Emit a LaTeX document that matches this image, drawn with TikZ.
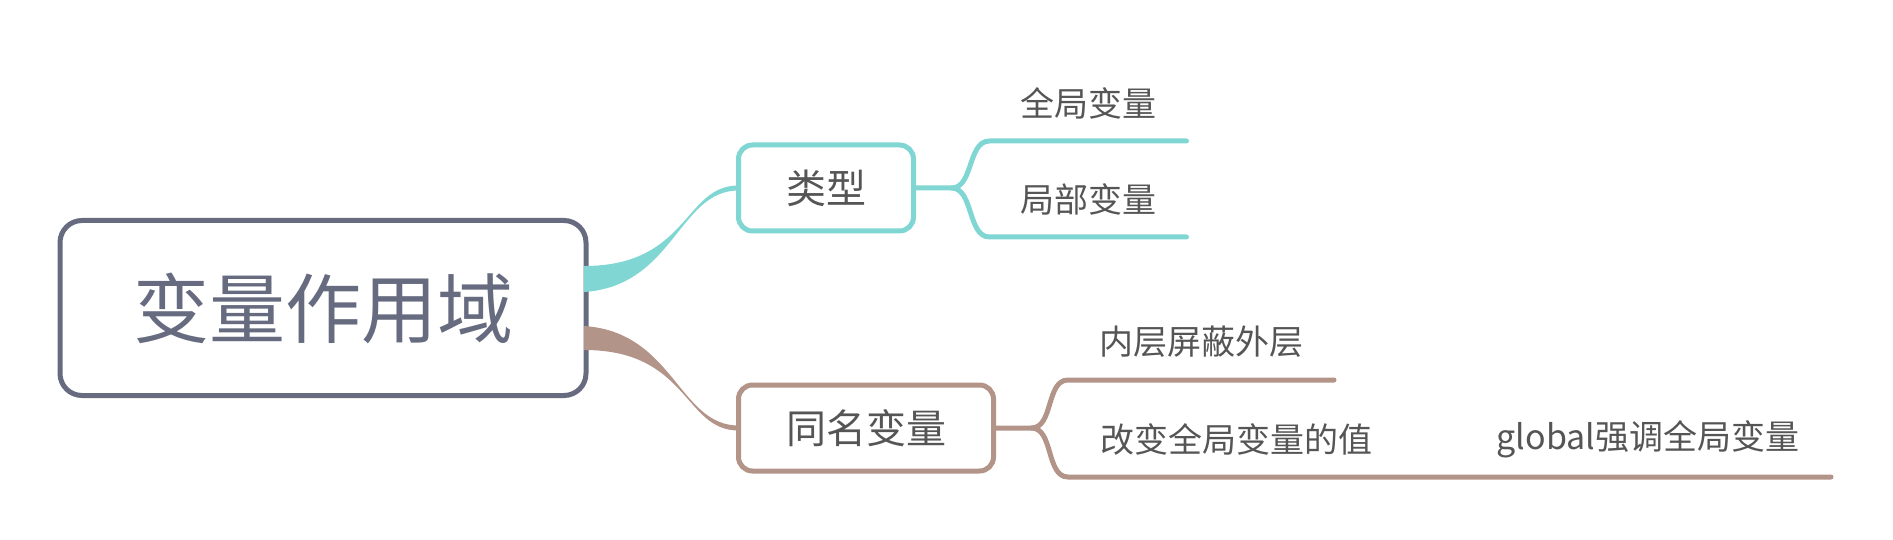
\documentclass[tikz,border=0pt]{standalone}
\usepackage{fontspec}
\newfontfamily\cjk{Noto Sans CJK SC}
\usetikzlibrary{calc}
\definecolor{slate}{HTML}{676B80}
\definecolor{tealc}{HTML}{7FD6D3}
\definecolor{brownc}{HTML}{B39489}
\definecolor{txt}{HTML}{555555}

\begin{document}
\begin{tikzpicture}[
    x=1pt, y=-1pt,
    rootbox/.style={draw=slate, line width=5pt, rounded corners=22pt, fill=white,
        minimum width=526pt, minimum height=175pt, outer sep=0pt,
        text=slate, font=\cjk\fontsize{76}{76}\selectfont},
    subbox/.style={line width=5pt, rounded corners=14pt, fill=white,
        minimum height=86pt, outer sep=0pt,
        text=txt, font=\cjk\fontsize{40}{40}\selectfont},
    leaf/.style={minimum height=76pt, inner sep=0pt, outer sep=0pt,
        text=txt, font=\cjk\fontsize{34}{34}\selectfont},
    tline/.style={draw=tealc, line width=5pt, line cap=round},
    bline/.style={draw=brownc, line width=5pt, line cap=round}
]
\useasboundingbox (0,0) rectangle (1893,540);

\node[rootbox] (root) at (323,308) {变量作用域};
\node[subbox, draw=tealc, minimum width=175pt] (kind) at (826,188) {类型};
\node[subbox, draw=brownc, minimum width=255pt] (same) at (866,428) {同名变量};

\fill[tealc] ($(root.east)+(-2,-42)$) .. controls +(105,0) and +(-55,0) .. ($(kind.west)+(0,-2.5)$)
    -- ($(kind.west)+(0,2.5)$) .. controls +(-60,0) and +(90,-6) .. ($(root.east)+(-2,-16)$) -- cycle;
\fill[brownc] ($(root.east)+(-2,18)$) .. controls +(90,6) and +(-60,0) .. ($(same.west)+(0,-2.5)$)
    -- ($(same.west)+(0,2.5)$) .. controls +(-55,0) and +(105,0) .. ($(root.east)+(-2,42)$) -- cycle;

\node[leaf, minimum width=197pt] (glob) at (1088,103) {全局变量};
\node[leaf, minimum width=197pt] (loc) at (1088,199) {局部变量};
\coordinate (ksplit) at ($(kind.east)+(38,0)$);
\draw[tline] (kind.east) -- (ksplit) .. controls +(22,0) and +(-22,0) .. (glob.south west) -- (glob.south east);
\draw[tline] (ksplit) .. controls +(22,0) and +(-22,0) .. (loc.south west) -- (loc.south east);

\node[leaf, minimum width=266pt] (inner) at (1201,342) {内层屏蔽外层};
\node[leaf, minimum width=336pt] (change) at (1236,439) {改变全局变量的值};
\node[leaf, minimum width=366pt] (glb) at (1648,439) {global强调全局变量};
\coordinate (ssplit) at ($(same.east)+(38,0)$);
\draw[bline] (same.east) -- (ssplit) .. controls +(22,0) and +(-22,0) .. (inner.south west) -- (inner.south east);
\draw[bline] (ssplit) .. controls +(22,0) and +(-22,0) .. (change.south west) -- (change.south east)
    -- (glb.south west) -- (glb.south east);
\end{tikzpicture}
\end{document}
